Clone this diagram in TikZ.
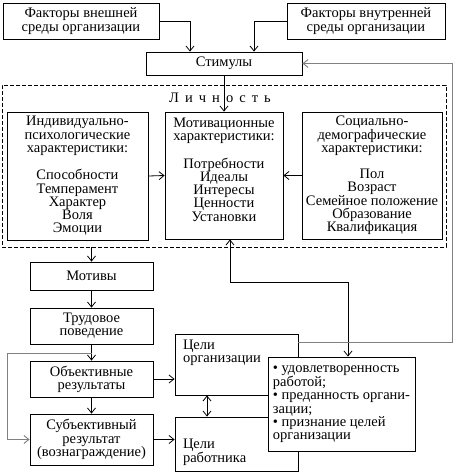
\documentclass[tikz,border=0pt]{standalone}
\usepackage{fontspec}
\setmainfont{Liberation Serif}
\usetikzlibrary{arrows.meta}
\begin{document}
\begin{tikzpicture}[x=1pt,y=-1pt,
  box/.style={draw, line width=0.8pt, fill=white, align=center, inner sep=1pt,
    font=\fontsize{14.5}{13.2}\selectfont},
  txt/.style={inner sep=0pt, font=\fontsize{14.5}{13.2}\selectfont},
  feed/.style={draw=gray, line width=0.9pt},
  >={Straight Barb[length=5pt,width=8pt]}, line width=0.8pt]
\useasboundingbox (0,0) rectangle (456,473);

% top tier:
\node[box, minimum width=156, minimum height=36] (extf) at (81,21) {Факторы внешней\\среды организации};
\node[box, minimum width=158, minimum height=36] (intf) at (366,21) {Факторы внутренней\\среды организации};
\node[box, minimum width=156, minimum height=23] (stim) at (224,63.5) {Стимулы};

\draw[->] (extf.east) -| ([xshift=-34]stim.north);
\draw[->] (intf.west) -| ([xshift=30]stim.north);


% personality:
\node[box, dash pattern=on 4pt off 2pt, minimum width=444, minimum height=162] (lich) at (224,166) {};
\node[txt] (lichT) at (220,98) {Л\, и\, ч\, н\, о\, с\, т\, ь};

\node[box, minimum width=141, minimum height=128] (indiv) at (77.5,176)
  {Индивидуально-\\психологические\\характеристики:\\[13.2pt]Способности\\Темперамент\\Характер\\Воля\\Эмоции};
\node[box, minimum width=118, minimum height=127] (motiv) at (224,175.5) {};
\node[txt, align=center, anchor=north] (motivT) at ([yshift=-6]motiv.north)
  {Мотивационные\\характеристики:\\[13.2pt]Потребности\\Идеалы\\Интересы\\Ценности\\Установки};
\node[box, minimum width=140, minimum height=127] (socdem) at (372,175.5)
  {Социально-\\демографические\\характеристики:\\[13.2pt]Пол\\Возраст\\Семейное положение\\Образование\\Квалификация};

\draw[->] (stim.south) -- (motiv.north);
\draw[->] (indiv.east) -- (motiv.west);
\draw[->] (socdem.west) -- (motiv.east);


% left column:
\node[box, minimum width=123, minimum height=28] (motives) at (91.5,276) {Мотивы};
\node[box, minimum width=123, minimum height=36] (trud) at (91.5,326) {Трудовое\\поведение};
\node[box, minimum width=123, minimum height=36] (obj) at (91.5,379) {Объективные\\результаты};
\node[box, minimum width=123, minimum height=51] (subj) at (91.5,439.5) {Субъективный\\результат\\(вознаграждение)};

\draw[->] (lich.south -| motives.north) -- (motives.north);
\draw[->] (motives.south) -- (trud.north);
\draw[->] (trud.south) -- (obj.north);
\draw[->] (obj.south) -- (subj.north);
\draw[feed,->] ([yshift=-9]trud.south) -- ++(-84,0) |- (subj.west);


% goals:
\node[box, minimum width=123, minimum height=61] (celorg) at (236.5,364.5) {};
\node[txt, align=left, anchor=north west] (celorgT) at ([shift={(8,6)}]celorg.north west) {Цели\\организации};
\node[box, minimum width=123, minimum height=54] (celrab) at (236.5,444) {};
\node[txt, align=left, anchor=south west] (celrabT) at ([shift={(8,-5)}]celrab.south west) {Цели\\работника};

\node[box, minimum width=147, minimum height=94, align=left, inner xsep=5pt] (result) at (341.5,404)
  {• удовлетворенность\\работой;\\• преданность органи-\\зации;\\• признание целей\\организации};

\draw[->] (obj.east) -- (obj.east -| celorg.west);
\draw[->] (subj.east) -- (subj.east -| celrab.west);
\draw[<->] ([xshift=-29.5]celorg.south) -- ([xshift=-29.5]celrab.north);
\draw[<->] ([xshift=6]motiv.south) -- ++(0,43) -| ([xshift=6.5]result.north);
\draw[feed,->] ([yshift=22.5]celorg.east) -- ++(154,0) |- (stim.east);

\end{tikzpicture}
\end{document}
